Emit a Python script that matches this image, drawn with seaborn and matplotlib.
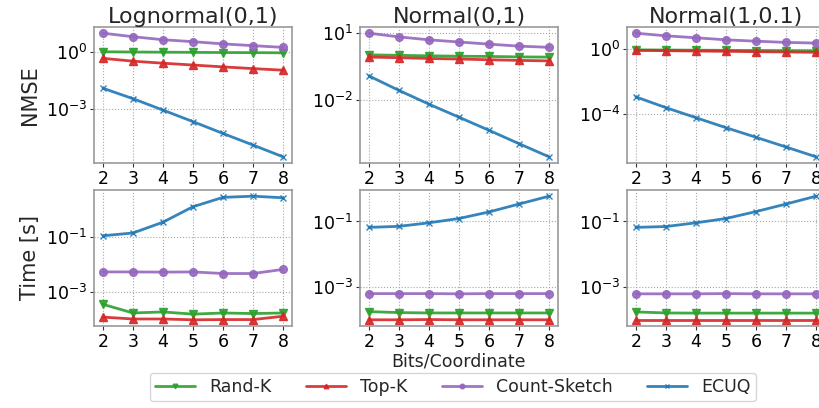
import numpy as np
import pandas as pd
import matplotlib
matplotlib.use("Agg")
import matplotlib.pyplot as plt
import seaborn as sns
from matplotlib.ticker import NullLocator

# DATA
bits = [2, 3, 4, 5, 6, 7, 8]
methods = ["Rand-K", "Top-K", "Count-Sketch", "ECUQ"]
dists = ["Lognormal(0,1)", "Normal(0,1)", "Normal(1,0.1)"]

# NMSE per distribution
nmse_lognormal = {
    "Rand-K": [1.0, 0.97, 0.95, 0.93, 0.91, 0.90, 0.88],
    "Top-K": [0.45, 0.32, 0.25, 0.20, 0.16, 0.13, 0.107],
    "Count-Sketch": [9.5, 6.2, 4.3, 3.4, 2.6, 2.1, 1.7],
    "ECUQ": [1.2e-2, 3.4e-3, 8.5e-4, 2.1e-4, 5.0e-5, 1.23e-5, 2.95e-6],
}
nmse_normal01 = {
    "Rand-K": [1.05, 1.0, 0.95, 0.91, 0.89, 0.85, 0.83],
    "Top-K": [0.83, 0.78, 0.72, 0.68, 0.63, 0.59, 0.56],
    "Count-Sketch": [10.0, 6.8, 5.0, 4.0, 3.2, 2.6, 2.3],
    "ECUQ": [0.117, 0.026, 6.2e-3, 1.6e-3, 4.1e-4, 1.02e-4, 2.6e-5],
}
nmse_normal1 = {
    "Rand-K": [0.93, 0.91, 0.89, 0.87, 0.85, 0.83, 0.81],
    "Top-K": [0.87, 0.83, 0.79, 0.76, 0.72, 0.69, 0.66],
    "Count-Sketch": [10.0, 6.9, 5.2, 3.9, 3.2, 2.7, 2.45],
    "ECUQ": [1.15e-3, 2.5e-4, 6.0e-5, 1.45e-5, 3.7e-6, 9.3e-7, 2.3e-7],
}

# time [s] per distribution
time_lognormal = {
    "Rand-K": [3.6e-4, 1.74e-4, 1.9e-4, 1.58e-4, 1.74e-4, 1.66e-4, 1.74e-4],
    "Top-K": [1.23e-4, 1.05e-4, 1.05e-4, 9.8e-5, 1.0e-4, 1.0e-4, 1.32e-4],
    "Count-Sketch": [5.5e-3, 5.5e-3, 5.4e-3, 5.5e-3, 4.8e-3, 4.8e-3, 6.8e-3],
    "ECUQ": [0.115, 0.145, 0.36, 1.32, 2.9, 3.2, 2.8],
}
time_normal01 = {
    "Rand-K": [1.78e-4, 1.66e-4, 1.62e-4, 1.62e-4, 1.62e-4, 1.62e-4, 1.62e-4],
    "Top-K": [1.0e-4, 1.0e-4, 1.02e-4, 1.0e-4, 1.0e-4, 1.0e-4, 1.0e-4],
    "Count-Sketch": [6.3e-4, 6.3e-4, 6.3e-4, 6.2e-4, 6.3e-4, 6.3e-4, 6.3e-4],
    "ECUQ": [0.066, 0.071, 0.091, 0.123, 0.195, 0.34, 0.59],
}
time_normal1 = {
    "Rand-K": [1.74e-4, 1.62e-4, 1.6e-4, 1.6e-4, 1.6e-4, 1.6e-4, 1.6e-4],
    "Top-K": [1.0e-4, 1.0e-4, 1.0e-4, 1.0e-4, 1.0e-4, 1.0e-4, 1.0e-4],
    "Count-Sketch": [6.2e-4, 6.2e-4, 6.2e-4, 6.3e-4, 6.2e-4, 6.2e-4, 6.2e-4],
    "ECUQ": [0.066, 0.070, 0.091, 0.123, 0.2, 0.34, 0.59],
}

nmse_data = [nmse_lognormal, nmse_normal01, nmse_normal1]
time_data = [time_lognormal, time_normal01, time_normal1]
nmse_ticks = [[1e-3, 1e0], [1e-2, 1e1], [1e-4, 1e0]]
time_ticks = [[1e-3, 1e-1], [1e-3, 1e-1], [1e-3, 1e-1]]

colors = {"Rand-K": "#2ca02c", "Top-K": "#d62728", "Count-Sketch": "#9467bd", "ECUQ": "#1f77b4"}
markers = {"Rand-K": "v", "Top-K": "^", "Count-Sketch": "o", "ECUQ": "x"}

# STYLE
sns.set_style("whitegrid", {
    "axes.edgecolor": "#999999",
    "grid.color": "#a8a8a8",
    "grid.linestyle": ":",
    "xtick.bottom": True,
    "ytick.left": True,
})
plt.rcParams["axes.linewidth"] = 1.2
plt.rcParams["xtick.major.size"] = 3
plt.rcParams["ytick.major.size"] = 3
plt.rcParams["xtick.color"] = "#333333"
plt.rcParams["ytick.color"] = "#333333"
plt.rcParams["xtick.labelcolor"] = "black"
plt.rcParams["ytick.labelcolor"] = "black"
plt.rcParams["font.family"] = ["DejaVu Sans"]

fig = plt.figure(figsize=(8.2, 4.08), dpi=100)
lefts = [0.1146, 0.439, 0.7646]
w, h = 0.2415, 0.3333
bottoms = [0.6005, 0.201]

axes = [[fig.add_axes([l, b, w, h]) for l in lefts] for b in bottoms]

for row, (dataset, ticksets) in enumerate([(nmse_data, nmse_ticks), (time_data, time_ticks)]):
    for col in range(3):
        ax = axes[row][col]
        d = dataset[col]
        for m in methods:
            sns.lineplot(x=bits, y=d[m], ax=ax, color=colors[m], marker=markers[m],
                         markersize=5.5 if m != "ECUQ" else 4.5, markeredgecolor=colors[m],
                         markeredgewidth=1, linewidth=2.0, alpha=0.9, label=m, legend=False)
        ax.set_yscale("log")
        ax.set_yticks(ticksets[col])
        ax.yaxis.set_minor_locator(NullLocator())
        ax.set_xticks(bits)
        ax.tick_params(labelsize=12.5, pad=2)
        ax.set_xlabel("")
        ax.set_ylabel("")
        if row == 0:
            ax.set_title(dists[col], fontsize=16, pad=3)

axes[0][0].set_ylabel("NMSE", fontsize=15)
axes[1][0].set_ylabel("Time [s]", fontsize=15)
axes[1][1].set_xlabel("Bits/Coordinate", fontsize=12.5, labelpad=1)

handles, labels = axes[0][0].get_legend_handles_labels()
fig.legend(handles, labels, loc="lower center", bbox_to_anchor=(0.552, -0.005), ncol=4,
           fontsize=12.5, frameon=True, edgecolor="#cccccc", handlelength=2.3,
           columnspacing=2.0, borderpad=0.3, markerscale=0.6)

fig.savefig("out.png", dpi=100)
